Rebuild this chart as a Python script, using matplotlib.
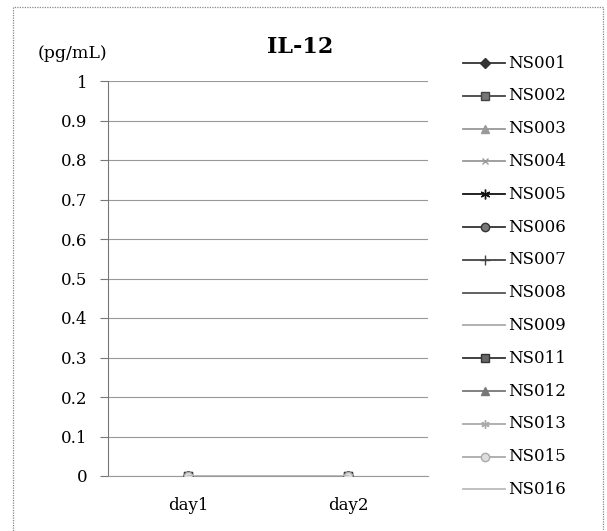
import matplotlib
matplotlib.use("Agg")
import matplotlib.pyplot as plt
from matplotlib.patches import Rectangle
from matplotlib.lines import Line2D

categories = ["day1", "day2"]
series_names = ["NS001", "NS002", "NS003", "NS004", "NS005", "NS006", "NS007",
                "NS008", "NS009", "NS011", "NS012", "NS013", "NS015", "NS016"]
series_values = {
    "NS001": [0, 0], "NS002": [0, 0], "NS003": [0, 0], "NS004": [0, 0],
    "NS005": [0, 0], "NS006": [0, 0], "NS007": [0, 0], "NS008": [0, 0],
    "NS009": [0, 0], "NS011": [0, 0], "NS012": [0, 0], "NS013": [0, 0],
    "NS015": [0, 0], "NS016": [0, 0],
}
y_ticks = [0, 0.1, 0.2, 0.3, 0.4, 0.5, 0.6, 0.7, 0.8, 0.9, 1]
y_tick_labels = ["0", "0.1", "0.2", "0.3", "0.4", "0.5", "0.6", "0.7", "0.8", "0.9", "1"]

styles = {
    "NS001": dict(color="#333333", marker="D", ms=5, mfc=None),
    "NS002": dict(color="#444444", marker="s", ms=6, mfc="#777777"),
    "NS003": dict(color="#999999", marker="^", ms=6, mfc=None),
    "NS004": dict(color="#999999", marker="x", ms=5, mfc=None),
    "NS005": dict(color="#111111", marker=(6, 2, 0), ms=7, mfc=None),
    "NS006": dict(color="#333333", marker="o", ms=6, mfc="#777777"),
    "NS007": dict(color="#444444", marker="+", ms=7, mfc=None),
    "NS008": dict(color="#555555", marker=None, ms=0, mfc=None),
    "NS009": dict(color="#aaaaaa", marker=None, ms=0, mfc=None),
    "NS011": dict(color="#333333", marker="s", ms=6, mfc="#666666"),
    "NS012": dict(color="#777777", marker="^", ms=6, mfc=None),
    "NS013": dict(color="#aaaaaa", marker=(6, 2, 0), ms=6, mfc=None),
    "NS015": dict(color="#aaaaaa", marker="o", ms=6, mfc="#dddddd"),
    "NS016": dict(color="#bbbbbb", marker=None, ms=0, mfc=None),
}

plt.rcParams['font.family'] = ['DejaVu Serif']

W, H = 607, 531
fig = plt.figure(figsize=(W / 100, H / 100), dpi=100)
ax = fig.add_axes([108 / W, 1 - 476 / H, (428 - 108) / W, (476 - 81) / H])

x = list(range(len(categories)))
handles = []
for name in series_names:
    st = styles[name]
    kw = dict(color=st["color"], lw=1.3, label=name, zorder=3)
    if st["marker"] is not None:
        kw.update(marker=st["marker"], ms=st["ms"])
        if st["mfc"] is not None:
            kw.update(markerfacecolor=st["mfc"], markeredgecolor=st["color"])
    h, = ax.plot(x, series_values[name], **kw)
    handles.append(h)

ax.set_xlim(-0.5, 1.5)
ax.set_ylim(0, 1)
ax.set_xticks(x)
ax.set_xticklabels(categories, fontsize=12)
ax.set_yticks(y_ticks)
ax.set_yticklabels(y_tick_labels, fontsize=12)
ax.tick_params(axis='y', length=6, width=0.8, color="#777777", pad=9)
ax.tick_params(axis='x', length=0, pad=15)
ax.grid(axis='y', color="#999999", lw=0.8)
ax.set_axisbelow(True)
for s in ["top", "right"]:
    ax.spines[s].set_visible(False)
ax.spines["left"].set_color("#777777")
ax.spines["bottom"].set_color("#999999")

fig.text(300 / W, 1 - 47 / H, "IL-12", fontsize=16, fontweight="bold",
         ha="center", va="center")
fig.text(72 / W, 1 - 54 / H, "(pg/mL)", fontsize=12.5, ha="center", va="center")

# legend (manual placement of entries)
y0, dy = 63, 32.8
for i, (name, h) in enumerate(zip(series_names, handles)):
    yy = 1 - (y0 + i * dy) / H
    ln = Line2D([463 / W, 485 / W, 505 / W], [yy, yy, yy], transform=fig.transFigure,
                color=h.get_color(), lw=1.3, marker=h.get_marker(),
                markersize=h.get_markersize(), markevery=[1],
                markerfacecolor=h.get_markerfacecolor(),
                markeredgecolor=h.get_markeredgecolor())
    fig.add_artist(ln)
    fig.text(508 / W, yy, name, fontsize=12, ha="left", va="center")

fig.patches.append(Rectangle((13 / W, -0.05), (603 - 13) / W, (1 - 7 / H) + 0.05,
                             transform=fig.transFigure, fill=False,
                             edgecolor="#888888", lw=0.9, linestyle=(0, (1, 1))))

fig.savefig("out.png", dpi=100)
